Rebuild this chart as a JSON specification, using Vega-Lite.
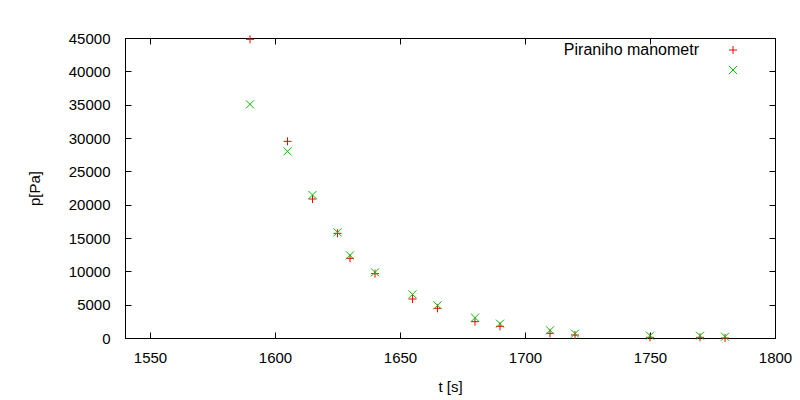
{
  "$schema": "https://vega.github.io/schema/vega-lite/v6.json",
  "width": 650,
  "height": 300,
  "autosize": {"type": "none"},
  "padding": {"left": 125, "top": 38, "right": 25, "bottom": 62},
  "background": "white",
  "view": {"stroke": "black", "strokeWidth": 1},
  "config": {
    "font": "Liberation Sans",
    "axis": {"labelFont": "Liberation Sans", "labelFontSize": 15, "labelColor": "black", "titleFont": "Liberation Sans", "titleFontSize": 15, "titleFontWeight": "normal", "titleColor": "black", "domainColor": "black", "tickColor": "black", "grid": false, "tickSize": -6, "tickWidth": 1, "labelFlush": false},
    "legend": {"labelFont": "Liberation Sans", "labelFontSize": 16, "labelColor": "black"}
  },
  "data": {"values": [
    {"t": 1590, "p": 44800, "s": "Piraniho manometr"},
    {"t": 1605, "p": 29500, "s": "Piraniho manometr"},
    {"t": 1615, "p": 20850, "s": "Piraniho manometr"},
    {"t": 1625, "p": 15700, "s": "Piraniho manometr"},
    {"t": 1630, "p": 11950, "s": "Piraniho manometr"},
    {"t": 1640, "p": 9650, "s": "Piraniho manometr"},
    {"t": 1655, "p": 5850, "s": "Piraniho manometr"},
    {"t": 1665, "p": 4450, "s": "Piraniho manometr"},
    {"t": 1680, "p": 2450, "s": "Piraniho manometr"},
    {"t": 1690, "p": 1750, "s": "Piraniho manometr"},
    {"t": 1710, "p": 700, "s": "Piraniho manometr"},
    {"t": 1720, "p": 450, "s": "Piraniho manometr"},
    {"t": 1750, "p": 100, "s": "Piraniho manometr"},
    {"t": 1770, "p": 100, "s": "Piraniho manometr"},
    {"t": 1780, "p": 0, "s": "Piraniho manometr"},
    {"t": 1590, "p": 35050, "s": "b"},
    {"t": 1605, "p": 28000, "s": "b"},
    {"t": 1615, "p": 21450, "s": "b"},
    {"t": 1625, "p": 15850, "s": "b"},
    {"t": 1630, "p": 12400, "s": "b"},
    {"t": 1640, "p": 9850, "s": "b"},
    {"t": 1655, "p": 6550, "s": "b"},
    {"t": 1665, "p": 4900, "s": "b"},
    {"t": 1680, "p": 3050, "s": "b"},
    {"t": 1690, "p": 2150, "s": "b"},
    {"t": 1710, "p": 1150, "s": "b"},
    {"t": 1720, "p": 650, "s": "b"},
    {"t": 1750, "p": 350, "s": "b"},
    {"t": 1770, "p": 350, "s": "b"},
    {"t": 1780, "p": 200, "s": "b"}
  ]},
  "resolve": {"axis": {"x": "independent", "y": "independent"}},
  "layer": [
    {
      "mark": {"type": "point", "filled": false, "strokeWidth": 1, "size": 64, "opacity": 1},
      "encoding": {
        "x": {"field": "t", "type": "quantitative", "scale": {"domain": [1540, 1800], "nice": false, "zero": false}, "axis": {"title": "t [s]", "values": [1550, 1600, 1650, 1700, 1750, 1800], "format": "d", "labelPadding": 18, "titlePadding": 14}},
        "y": {"field": "p", "type": "quantitative", "scale": {"domain": [0, 45000], "nice": false}, "axis": {"title": "p[Pa]", "values": [0, 5000, 10000, 15000, 20000, 25000, 30000, 35000, 40000, 45000], "labelPadding": 21, "titlePadding": 26, "format": "d"}},
        "color": {"field": "s", "type": "nominal", "scale": {"domain": ["Piraniho manometr", "b"], "range": ["#ff0000", "#00c000"]}, "legend": {"orient": "none", "legendX": 600, "legendY": 4, "title": null, "padding": 0, "labelAlign": "right", "labelOffset": -42, "rowPadding": 4, "symbolSize": 64, "symbolStrokeWidth": 1, "labelExpr": "datum.value == 'b' ? '' : datum.value"}},
        "shape": {"field": "s", "type": "nominal", "scale": {"domain": ["Piraniho manometr", "b"], "range": ["M-1,0H1M0,-1V1", "M-1,-1L1,1M-1,1L1,-1"]}, "legend": {"orient": "none", "legendX": 600, "legendY": 4, "title": null, "padding": 0, "labelAlign": "right", "labelOffset": -42, "rowPadding": 4, "symbolSize": 64, "symbolStrokeWidth": 1, "labelExpr": "datum.value == 'b' ? '' : datum.value"}}
      }
    },
    {
      "mark": {"type": "point", "opacity": 0},
      "encoding": {
        "x": {"field": "t", "type": "quantitative", "axis": {"orient": "top", "labels": false, "title": null, "values": [1550, 1600, 1650, 1700, 1750, 1800]}},
        "y": {"field": "p", "type": "quantitative", "axis": {"orient": "right", "labels": false, "title": null, "values": [0, 5000, 10000, 15000, 20000, 25000, 30000, 35000, 40000, 45000]}}
      }
    }
  ]
}
